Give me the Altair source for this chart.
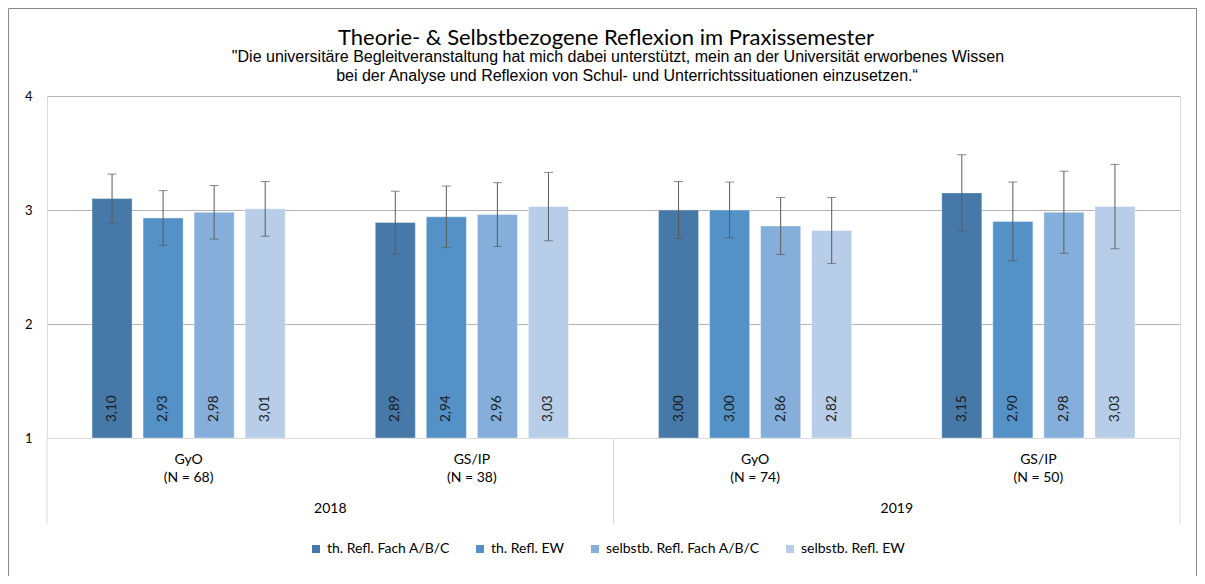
import altair as alt
import pandas as pd

# ---- data ----
groups = ["2018|GyO", "2018|GS/IP", "2019|GyO", "2019|GS/IP"]
schools = ["GyO", "GS/IP", "GyO", "GS/IP"]
n_labels = ["(N = 68)", "(N = 38)", "(N = 74)", "(N = 50)"]
years = ["2018", "2019"]
series = ["th. Refl. Fach A/B/C", "th. Refl. EW", "selbstb. Refl. Fach A/B/C", "selbstb. Refl. EW"]
colors = ["#4678a8", "#5391c7", "#85aedb", "#b8cde8"]
means = [
    [3.10, 2.93, 2.98, 3.01],
    [2.89, 2.94, 2.96, 3.03],
    [3.00, 3.00, 2.86, 2.82],
    [3.15, 2.90, 2.98, 3.03],
]
errors = [
    [0.215, 0.24, 0.235, 0.24],
    [0.275, 0.27, 0.28, 0.30],
    [0.25, 0.245, 0.25, 0.29],
    [0.335, 0.345, 0.36, 0.37],
]
y_ticks = [1, 2, 3, 4]

title_text = "Theorie- & Selbstbezogene Reflexion im Praxissemester"
sub1 = "\"Die universitäre Begleitveranstaltung hat mich dabei unterstützt, mein an der Universität erworbenes Wissen"
sub2 = "bei der Analyse und Reflexion von Schul- und Unterrichtssituationen einzusetzen.\u201c"

rows = []
for gi, g in enumerate(groups):
    for si, s in enumerate(series):
        m = means[gi][si]
        e = errors[gi][si]
        rows.append({
            "group": g, "series": s, "mean": m,
            "lo": m - e, "hi": m + e,
            "label": f"{m:.2f}".replace(".", ","),
        })
df = pd.DataFrame(rows)
gdf = pd.DataFrame({"group": groups, "school": schools, "n": n_labels})
ydf = pd.DataFrame({"group": [groups[0], groups[2]], "year": years})

FONT = "Lato"
W, H = 1133, 342

xscale = alt.Scale(domain=groups, paddingInner=0, paddingOuter=0)
xenc = alt.X("group:N", scale=xscale, axis=None)
xoff = alt.XOffset("series:N", scale=alt.Scale(domain=series, paddingInner=0.2157, paddingOuter=0.882))
yscale = alt.Scale(domain=[1, 4], nice=False, zero=False)

bars = alt.Chart(df).mark_bar(stroke="white", strokeWidth=0.6, strokeOpacity=0.6).encode(
    x=xenc,
    xOffset=xoff,
    y=alt.Y("mean:Q", scale=yscale, axis=alt.Axis(
        values=y_ticks, format="d", grid=True, domain=False, ticks=False, title=None,
        gridColor={"condition": {"test": "datum.value === 1", "value": "#d9d9d9"}, "value": "#b3b3b3"},
        labelFont=FONT, labelFontSize=13, labelColor="#000000", labelPadding=15)),
    y2=alt.datum(1),
    color=alt.Color("series:N", scale=alt.Scale(domain=series, range=colors), legend=alt.Legend(
        title=None, orient="none", direction="horizontal", legendX=262, legendY=446,
        symbolType="square", symbolSize=64, symbolStrokeWidth=0,
        labelFont=FONT, labelFontSize=14, labelColor="#000000", columnPadding=23, labelOffset=4)),
)

err = alt.Chart(df).mark_rule(color="#5a5a5a", strokeWidth=1).encode(
    x=xenc, xOffset=xoff, y=alt.Y("lo:Q", scale=yscale), y2="hi:Q")
cap_hi = alt.Chart(df).mark_tick(color="#5a5a5a", size=9, thickness=1).encode(
    x=xenc, xOffset=xoff, y=alt.Y("hi:Q", scale=yscale))
cap_lo = alt.Chart(df).mark_tick(color="#5a5a5a", size=9, thickness=1).encode(
    x=xenc, xOffset=xoff, y=alt.Y("lo:Q", scale=yscale))

vals = alt.Chart(df).mark_text(angle=270, align="left", baseline="middle", dx=16,
                               font=FONT, fontSize=13.5, color="#1a1a1a").encode(
    x=xenc, xOffset=xoff, y=alt.datum(1, scale=yscale), text="label:N")

school_txt = alt.Chart(gdf).mark_text(font=FONT, fontSize=14, color="#000000", baseline="middle").encode(
    x=xenc, y=alt.value(364), text="school:N")
n_txt = alt.Chart(gdf).mark_text(font=FONT, fontSize=14, color="#000000", baseline="middle").encode(
    x=xenc, y=alt.value(382), text="n:N")
year_txt = alt.Chart(ydf).mark_text(font=FONT, fontSize=14, color="#000000", baseline="middle").encode(
    x=alt.X("group:N", scale=xscale, axis=None, bandPosition=1), y=alt.value(413), text="year:N")

sep_start = alt.Chart(pd.DataFrame({"group": [groups[0], groups[2]]})).mark_rule(color="#d9d9d9", strokeWidth=1).encode(
    x=alt.X("group:N", scale=xscale, axis=None, bandPosition=0), y=alt.value(H), y2=alt.value(H + 86))
sep_end = alt.Chart(pd.DataFrame({"group": [groups[3]]})).mark_rule(color="#d9d9d9", strokeWidth=1).encode(
    x=alt.X("group:N", scale=xscale, axis=None, bandPosition=1), y=alt.value(H), y2=alt.value(H + 86))

one = alt.Data(values=[{"t": title_text, "s1": sub1, "s2": sub2}])
title = alt.Chart(one).mark_text(font=FONT, fontSize=22, fontWeight="normal", color="#000000", baseline="middle").encode(
    x=alt.value(559), y=alt.value(-58), text="t:N")
subtitle1 = alt.Chart(one).mark_text(font="Liberation Sans", fontSize=16, color="#000000", baseline="middle").encode(
    x=alt.value(571), y=alt.value(-39), text="s1:N")
subtitle2 = alt.Chart(one).mark_text(font="Liberation Sans", fontSize=16, color="#000000", baseline="middle").encode(
    x=alt.value(580), y=alt.value(-20), text="s2:N")

frame = alt.Chart(alt.Data(values=[{}])).mark_rect(filled=False, stroke="#8a8a8a", strokeWidth=1).encode(
    x=alt.value(-38.5), x2=alt.value(1149.5), y=alt.value(-87.5), y2=alt.value(600))

chart = alt.layer(
    frame, bars, err, cap_hi, cap_lo, vals, sep_start, sep_end,
    school_txt, n_txt, year_txt, title, subtitle1, subtitle2,
).properties(
    width=W, height=H,
    autosize=alt.AutoSizeParams(type="none"),
    padding={"left": 39, "top": 88, "right": 17, "bottom": 138},
).configure_view(stroke=None).configure(background="white")

chart.save("out.html", embed_options={"renderer": "svg", "actions": False})
